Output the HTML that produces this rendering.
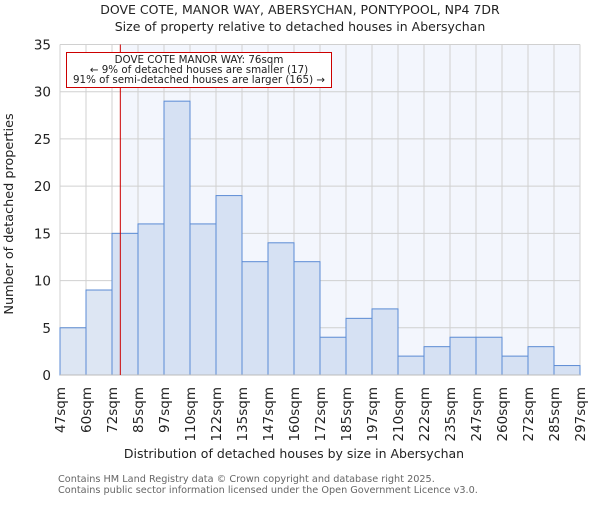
<!DOCTYPE html>
<html><head><meta charset="utf-8"><style>
body{margin:0;background:#fff}
svg text{font-family:"DejaVu Sans","Liberation Sans",sans-serif}
</style></head><body>
<svg id="chart" width="600" height="500" xmlns="http://www.w3.org/2000/svg">
<text x="300" y="14" text-anchor="middle" font-size="12.5" fill="#222">DOVE COTE, MANOR WAY, ABERSYCHAN, PONTYPOOL, NP4 7DR</text>
<text x="300" y="31" text-anchor="middle" font-size="12.5" fill="#222">Size of property relative to detached houses in Abersychan</text>
<g id="plot"></g>
<text x="294" y="458" text-anchor="middle" font-size="12.5" fill="#222">Distribution of detached houses by size in Abersychan</text>
<text transform="translate(13,214) rotate(-90)" text-anchor="middle" font-size="12.8" fill="#222">Number of detached properties</text>
<text x="58" y="482" font-size="9.7" fill="#666">Contains HM Land Registry data © Crown copyright and database right 2025.</text>
<text x="58" y="493" font-size="9.7" fill="#666">Contains public sector information licensed under the Open Government Licence v3.0.</text>
</svg>
<script>
const categories=["47sqm","60sqm","72sqm","85sqm","97sqm","110sqm","122sqm","135sqm","147sqm","160sqm","172sqm","185sqm","197sqm","210sqm","222sqm","235sqm","247sqm","260sqm","272sqm","285sqm","297sqm"];
const values=[5,9,15,16,29,16,19,12,14,12,4,6,7,2,3,4,4,2,3,1];
const yTicks=[0,5,10,15,20,25,30,35];
const binStart=47, binWidth=12.5, markerValue=76;
const X0=60,X1=580,Y0=375,Y1=44.5,YMAX=35;
const sx=v=>X0+(v-binStart)/binWidth*((X1-X0)/values.length);
const xi=i=>X0+i*(X1-X0)/values.length;
const sy=v=>Y0-(v/YMAX)*(Y0-Y1);
const NS="http://www.w3.org/2000/svg";
const g=document.getElementById('plot');
function mk(t,a){const e=document.createElementNS(NS,t);for(const k in a)e.setAttribute(k,a[k]);g.appendChild(e);return e;}
const mx=sx(markerValue);
let bg=mk('rect',{x:mx,y:Y1,width:X1-mx,height:Y0-Y1,fill:'#f3f6fd'});


yTicks.forEach(t=>{
 let l=mk('line',{x1:X0,x2:X1,y1:sy(t),y2:sy(t),stroke:'#d0d0d0','stroke-width':1});
 
 
 let tx=mk('text',{x:X0-9,y:sy(t)+5,'text-anchor':'end','font-size':'13.5',fill:'#222'});
 tx.textContent=t;
 
 
});
categories.forEach((c,i)=>{
 let l=mk('line',{x1:xi(i),x2:xi(i),y1:Y1,y2:Y0,stroke:'#d0d0d0','stroke-width':1});
 
 
 let x=xi(i)+5;
 let tx=mk('text',{x:x,y:387,'text-anchor':'end','font-size':'13.5',fill:'#222',transform:`rotate(-90 ${x} 387)`});
 tx.textContent=c;
 
 
});
values.forEach((v,i)=>{
 let r=mk('rect',{x:xi(i),y:sy(v),width:xi(i+1)-xi(i),height:Y0-sy(v),fill:xi(i+1)<=mx?'#dde6f3':'#d6e1f3',stroke:'#5b8bd4','stroke-width':1});
 
 
});
let ax=mk('line',{x1:X0,x2:X1,y1:Y0,y2:Y0,stroke:'#bbbbbb','stroke-width':1});


let ml=mk('line',{x1:mx,x2:mx,y1:Y1,y2:Y0,stroke:'#cc0000','stroke-width':1});


let box=mk('rect',{x:66.5,y:52.5,width:265,height:35,fill:'#fff',stroke:'#cc0000','stroke-width':1});


["DOVE COTE MANOR WAY: 76sqm","← 9% of detached houses are smaller (17)","91% of semi-detached houses are larger (165) →"].forEach((s,k)=>{
 let t=mk('text',{x:199,y:63+k*10,'text-anchor':'middle','font-size':'10.3',fill:'#222'});
 t.textContent=s;
 
 
});
</script>
</body></html>
